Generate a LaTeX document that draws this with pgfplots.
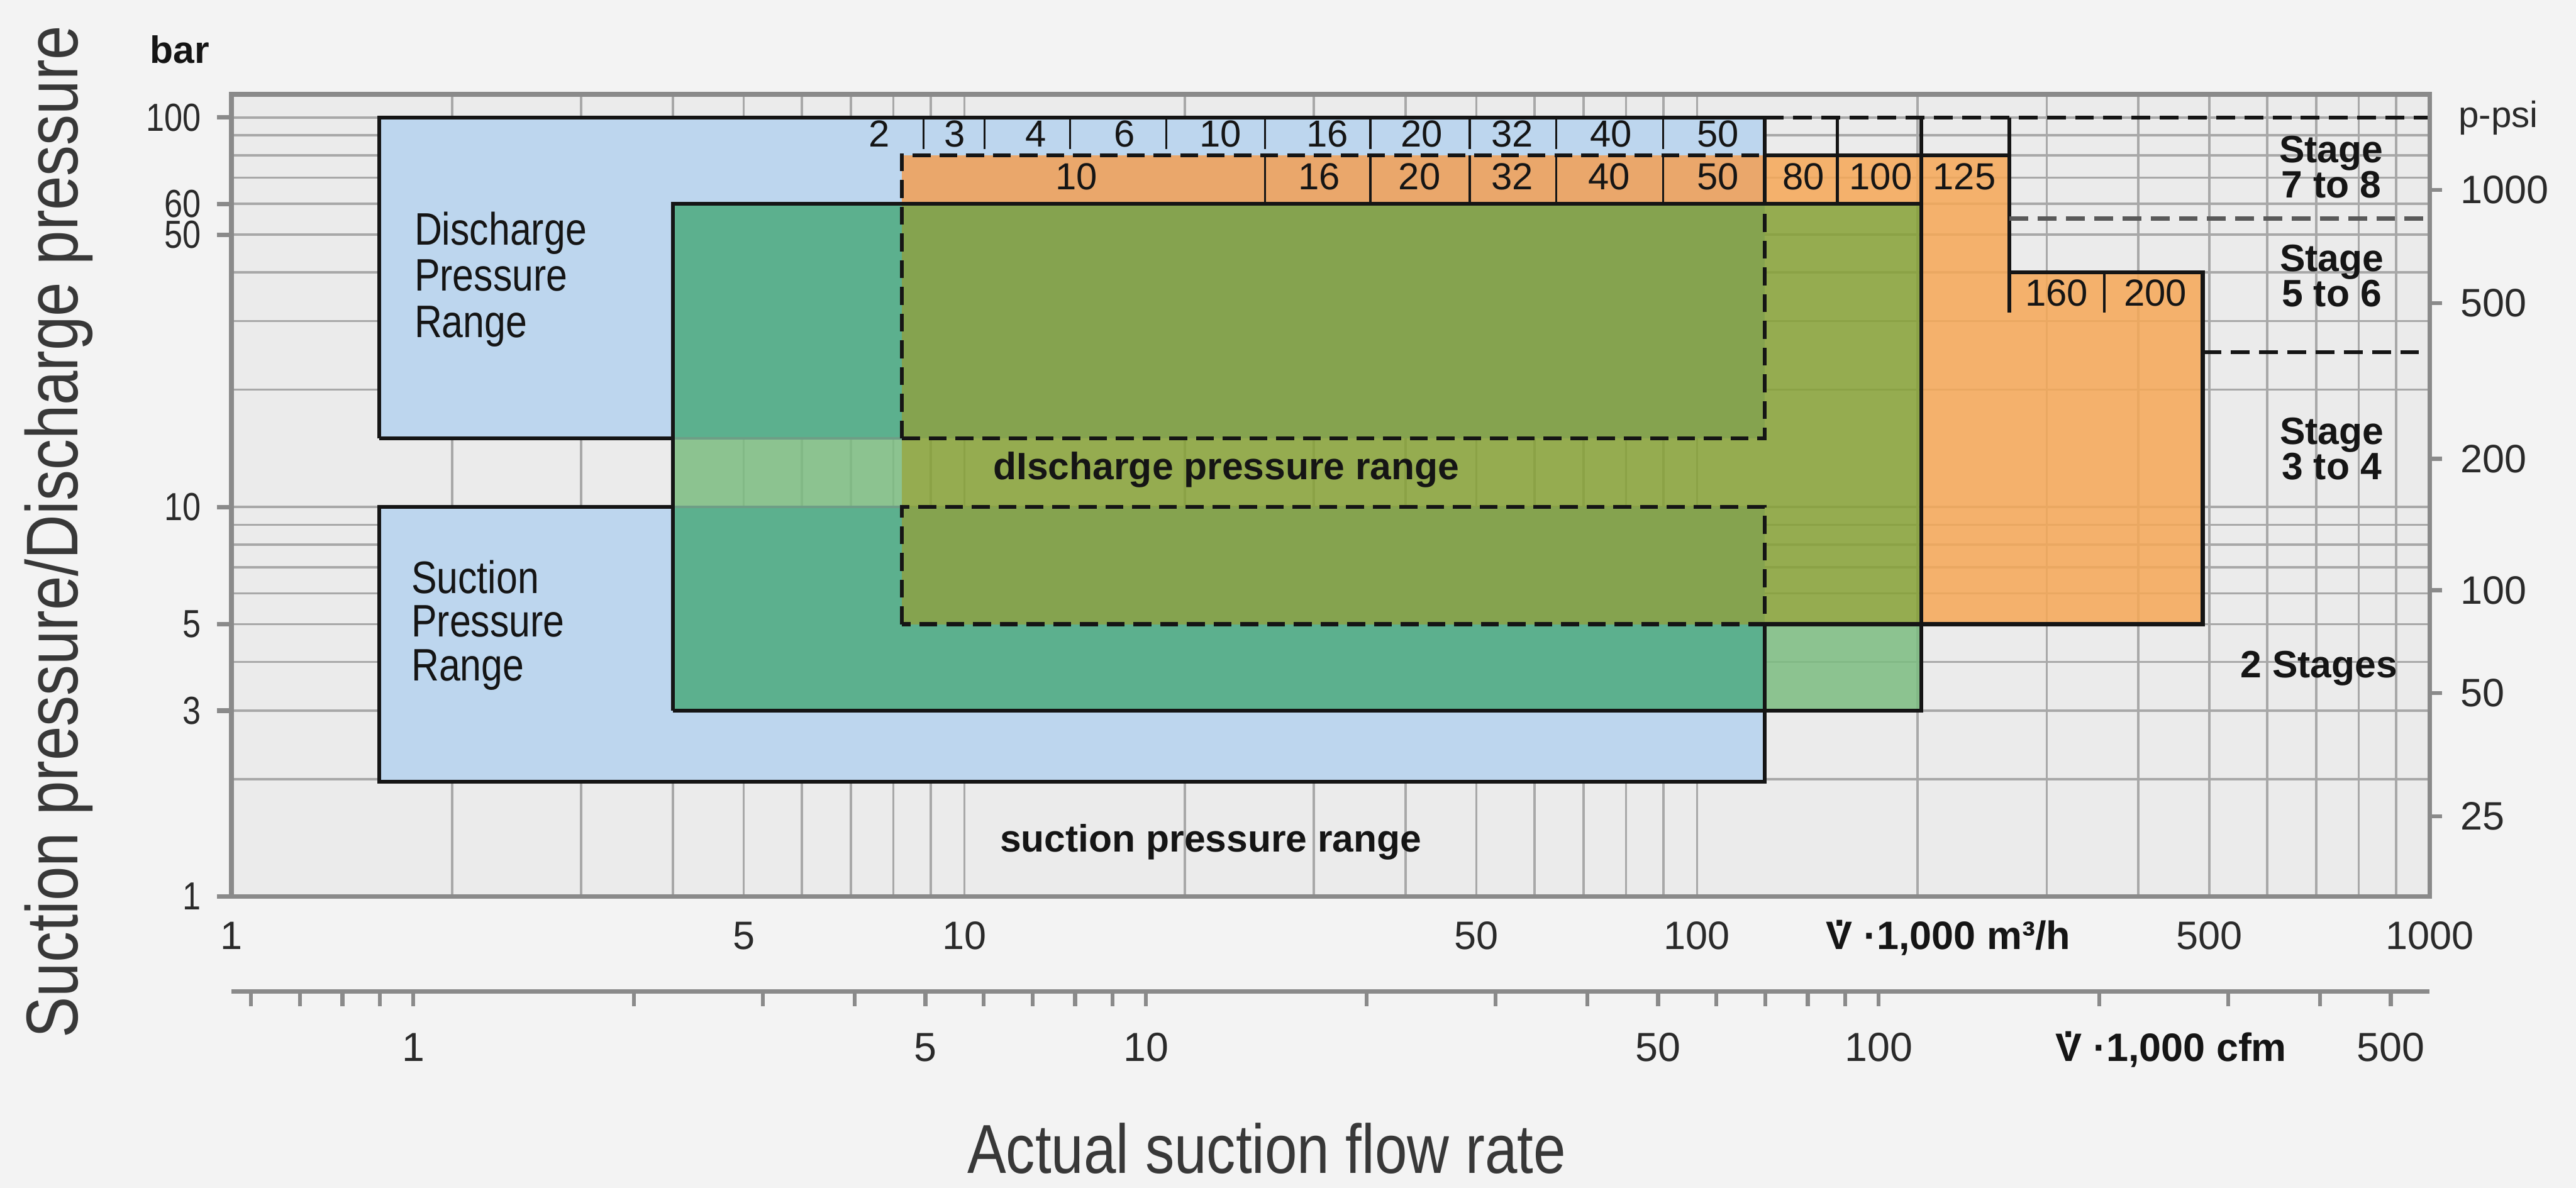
\documentclass[border=0pt]{standalone}
\usepackage{fontspec}
\setmainfont{Liberation Sans}
\newfontfamily\narrowfont[FakeStretch=0.84]{Liberation Sans}
\usepackage{pgfplots}
\pgfplotsset{compat=1.18}

\definecolor{pagebg}{HTML}{F3F3F3}
\definecolor{plotbg}{HTML}{EBEBEB}
\definecolor{gridc}{HTML}{A8A8A8}
\definecolor{axisc}{HTML}{8A8A8A}
\definecolor{labelc}{HTML}{2A2A2A}
\definecolor{titlec}{HTML}{383838}
\definecolor{lc}{HTML}{151515}
\definecolor{cB}{HTML}{BDD6EE}
\definecolor{cBO}{HTML}{EAA76B}
\definecolor{cO}{HTML}{F6A856}
\definecolor{cBG}{HTML}{5CB08E}
\definecolor{cBOG}{HTML}{85A34F}
\definecolor{cOG}{HTML}{87A135}
\definecolor{cG}{HTML}{7CBC81}
\definecolor{faint}{HTML}{6E9E86}

\newcommand{\piece}[6][]{\addplot[draw=none, fill=#2, #1] coordinates {(#3,#5) (#4,#5) (#4,#6) (#3,#6)} -- cycle;}
\newcommand{\Vdot}{\ooalign{V\cr\hidewidth\raisebox{0.6em}{.}\hidewidth\cr}}

\begin{document}
\begin{tikzpicture}
\useasboundingbox (0,0) rectangle (520.39pt,239.95pt);
\fill[pagebg] (0,0) rectangle (520.39pt,239.95pt);

\begin{axis}[
  at={(46.80pt,58.84pt)}, anchor=south west,
  scale only axis, width=444.05pt, height=162.09pt,
  xmode=log, ymode=log,
  xmin=1, xmax=1000, ymin=1, ymax=114.8,
  axis background/.style={fill=plotbg},
  axis line style={draw=axisc, line width=1pt},
  grid=both,
  major grid style={draw=gridc, line width=0.45pt},
  minor grid style={draw=gridc, line width=0.45pt},
  xtick={1,5,10,50,100,500,1000},
  xticklabels={1,5,10,50,100,500,1000},
  minor xtick={2,3,4,6,7,8,9,20,30,40,60,70,80,90,200,300,400,600,700,800,900},
  ytick={1,3,5,10,50,60,100},
  yticklabels={1,3,5,10,50,60,100},
  minor ytick={2,4,6,7,8,9,20,30,40,70,80,90},
  tick align=outside,
  major tick length=3pt, minor tick length=0pt,
  xtick style={draw=none},
  ytick style={draw=axisc, line width=0.9pt},
  ytick pos=left, xtick pos=bottom,
  xticklabel style={font=\fontsize{8}{9}\selectfont, text=labelc, anchor=base, inner sep=0pt, yshift=-7.72pt},
  yticklabel style={font=\narrowfont\fontsize{7.9}{9}\selectfont, text=labelc, anchor=east, inner sep=0pt, xshift=-3.04pt},
  clip=false,
]
% blue only
\piece{cB}{1.59}{123.7}{80}{100}
\piece{cB}{1.59}{8.22}{60}{80}
\piece{cB}{1.59}{4}{15}{60}
\piece{cB}{1.59}{4}{3}{10}
\piece{cB}{1.59}{123.7}{1.97}{3}
% blue + orange
\piece{cBO}{8.22}{123.7}{60}{80}
% orange only
\piece[fill opacity=0.85]{cO}{123.7}{267}{60}{80}
\piece[fill opacity=0.85]{cO}{202.4}{267}{5}{60}
\piece[fill opacity=0.85]{cO}{267}{490}{5}{40}
% blue + green
\piece{cBG}{4}{8.22}{15}{60}
\piece{cBG}{4}{8.22}{3}{10}
\piece{cBG}{8.22}{123.7}{3}{5}
% blue + orange + green
\piece{cBOG}{8.22}{123.7}{15}{60}
\piece{cBOG}{8.22}{123.7}{5}{10}
% orange + green
\piece[fill opacity=0.85]{cOG}{123.7}{202.4}{5}{60}
\piece[fill opacity=0.85]{cOG}{8.22}{123.7}{10}{15}
% green only
\piece[fill opacity=0.85]{cG}{4}{8.22}{10}{15}
\piece[fill opacity=0.85]{cG}{123.7}{202.4}{3}{5}

% faint edges under green
\addplot[faint, line width=0.5pt] coordinates {(4,15) (8.22,15)};
\addplot[faint, line width=0.5pt] coordinates {(4,10) (8.22,10)};

% solid outlines
\addplot[lc, line width=0.8pt] coordinates {(1.59,15) (1.59,100) (123.7,100)};
\addplot[lc, line width=0.8pt] coordinates {(1.59,15) (4,15)};
\addplot[lc, line width=0.8pt] coordinates {(123.7,100) (123.7,60)};
\addplot[lc, line width=0.8pt] coordinates {(4,10) (1.59,10) (1.59,1.97) (123.7,1.97) (123.7,5)};
\addplot[lc, line width=0.8pt] coordinates {(4,3) (4,60) (202.4,60)};
\addplot[lc, line width=0.8pt] coordinates {(202.4,100) (202.4,3) (4,3)};
\addplot[lc, line width=0.8pt] coordinates {(123.7,80) (267,80)};
\addplot[lc, line width=0.8pt] coordinates {(267,100) (267,31.6)};
\addplot[lc, line width=0.8pt] coordinates {(267,40) (490,40) (490,5) (123.7,5)};

% separators
\addplot[lc, line width=0.6pt] coordinates {(155.4,100) (155.4,60)};
\addplot[lc, line width=0.5pt] coordinates {(359.5,40) (359.5,31.6)};
\foreach \xs in {8.80,10.66,13.94,18.87,25.72,35.84,48.94,64.27,89.93} {
  \edef\tmp{\noexpand\addplot[lc, line width=0.45pt] coordinates {(\xs,99.5) (\xs,83)};}\tmp
}
\foreach \xs in {25.72,35.84,48.94,64.27,89.93} {
  \edef\tmp{\noexpand\addplot[lc, line width=0.45pt] coordinates {(\xs,80) (\xs,60)};}\tmp
}

% dashed lines
\addplot[lc, line width=0.8pt, dash pattern=on 3.8pt off 1.9pt] coordinates {(123.7,100) (1000,100)};
\addplot[lc, line width=0.8pt, dash pattern=on 3.6pt off 1.8pt] coordinates {(8.22,15) (8.22,80) (123.7,80)};
\addplot[lc, line width=0.8pt, dash pattern=on 3.6pt off 1.8pt] coordinates {(8.22,15) (123.7,15) (123.7,60)};
\addplot[lc, line width=0.8pt, dash pattern=on 3.6pt off 1.8pt] coordinates {(8.22,5) (8.22,10) (123.7,10) (123.7,5) (8.22,5)};
\addplot[black!65, line width=0.8pt, dash pattern=on 3.8pt off 1.9pt] coordinates {(267,55) (1000,55)};
\addplot[lc, line width=0.8pt, dash pattern=on 3.8pt off 1.9pt] coordinates {(490,25) (1000,25)};

% row labels
\begin{scope}[every node/.style={font=\fontsize{7.6}{8}\selectfont, text=lc, inner sep=0pt}]
\node at (axis cs:7.66,90.8) {2};
\node at (axis cs:9.71,90.8) {3};
\node at (axis cs:12.51,90.8) {4};
\node at (axis cs:16.54,90.8) {6};
\node at (axis cs:22.38,90.8) {10};
\node at (axis cs:31.3,90.8) {16};
\node at (axis cs:42.1,90.8) {20};
\node at (axis cs:55.97,90.8) {32};
\node at (axis cs:76.3,90.8) {40};
\node at (axis cs:106.8,90.8) {50};
\node at (axis cs:14.23,70.5) {10};
\node at (axis cs:30.5,70.5) {16};
\node at (axis cs:41.8,70.5) {20};
\node at (axis cs:55.97,70.5) {32};
\node at (axis cs:75.9,70.5) {40};
\node at (axis cs:106.8,70.5) {50};
\node at (axis cs:139.7,70.5) {80};
\node at (axis cs:178.1,70.5) {100};
\node at (axis cs:231.7,70.5) {125};
\node at (axis cs:309.6,35.4) {160};
\node at (axis cs:422,35.4) {200};
\end{scope}

% range labels
\node[font=\narrowfont\fontsize{9.2}{9.3}\selectfont, align=left, anchor=west, inner sep=0pt, text=lc] at (axis cs:1.771,38.4) {Discharge\\Pressure\\Range};
\node[font=\narrowfont\fontsize{9.2}{8.8}\selectfont, align=left, anchor=west, inner sep=0pt, text=lc] at (axis cs:1.754,4.97) {Suction\\Pressure\\Range};
\node[font=\bfseries\fontsize{7.7}{8}\selectfont, inner sep=0pt, text=lc] at (axis cs:22.78,12.45) {dIscharge pressure range};
\node[font=\bfseries\fontsize{7.7}{8}\selectfont, inner sep=0pt, text=lc] at (axis cs:21.7,1.381) {suction pressure range};

% stage labels
\begin{scope}[every node/.style={font=\bfseries\fontsize{7.7}{7.1}\selectfont, align=center, inner sep=0pt, text=lc}]
\node at (axis cs:733.6,74.7) {Stage\\7 to 8};
\node at (axis cs:735,39.2) {Stage\\5 to 6};
\node at (axis cs:735,14.08) {Stage\\3 to 4};
\node at (axis cs:706,3.846) {2 Stages};
\end{scope}
\end{axis}

% right psi axis
\begin{axis}[
  at={(46.80pt,58.84pt)}, anchor=south west,
  scale only axis, width=444.05pt, height=162.09pt,
  xmode=log, ymode=log,
  xmin=1, xmax=1000, ymin=1, ymax=114.8,
  axis x line=none, axis y line*=right,
  y axis line style={draw=axisc, line width=1pt, -},
  ytick={1.608,3.33,6.11,13.29,33.4,65.1},
  yticklabels={25,50,100,200,500,1000},
  minor ytick={},
  tick align=outside, major tick length=2.5pt,
  ytick style={draw=axisc, line width=0.8pt},
  yticklabel style={font=\fontsize{8}{9}\selectfont, text=labelc, anchor=west, inner sep=0pt, xshift=3.5pt},
]
\addplot[draw=none] coordinates {(10,10)};
\end{axis}

% cfm axis
\begin{axis}[
  at={(46.80pt,39.66pt)}, anchor=south west,
  scale only axis, width=444.05pt, height=10pt,
  xmode=log, xmin=0.565, xmax=565, ymin=0, ymax=1,
  axis y line=none, axis x line*=bottom,
  x axis line style={draw=axisc, line width=1pt, -},
  xtick={1,5,10,50,100,500},
  xticklabels={1,5,10,50,100,500},
  minor xtick={0.6,0.7,0.8,0.9,2,3,4,6,7,8,9,20,30,40,60,70,80,90,200,300,400},
  tick align=outside, major tick length=3pt, minor tick length=3pt,
  every tick/.style={draw=axisc, line width=0.8pt},
  xticklabel style={font=\fontsize{8.2}{9}\selectfont, text=labelc, anchor=base, inner sep=0pt, yshift=-11.1pt},
]
\addplot[draw=none] coordinates {(1,0.5)};
\end{axis}

% outside texts
\node[font=\bfseries\fontsize{7.7}{8}\selectfont, anchor=base, inner sep=0pt, text=lc] at (36.34pt,227.17pt) {bar};
\node[font=\fontsize{7.4}{8}\selectfont, anchor=base west, inner sep=0pt, text=labelc] at (496.49pt,214.26pt) {p-psi};
\node[font=\bfseries\fontsize{8}{9}\selectfont, anchor=base, inner sep=0pt, text=lc] at (393.61pt,48.12pt) {\Vdot{} ·1,000 m³/h};
\node[font=\bfseries\fontsize{8}{9}\selectfont, anchor=base, inner sep=0pt, text=lc] at (438.61pt,25.55pt) {\Vdot{} ·1,000 cfm};
\node[font=\narrowfont\fontsize{14.8}{16}\selectfont, rotate=90, anchor=base, inner sep=0pt, text=titlec] at (15.69pt,132.54pt) {Suction pressure/Discharge pressure};
\node[font=\narrowfont\fontsize{14}{16}\selectfont, anchor=base, inner sep=0pt, text=titlec] at (255.88pt,2.95pt) {Actual suction flow rate};
\end{tikzpicture}
\end{document}
